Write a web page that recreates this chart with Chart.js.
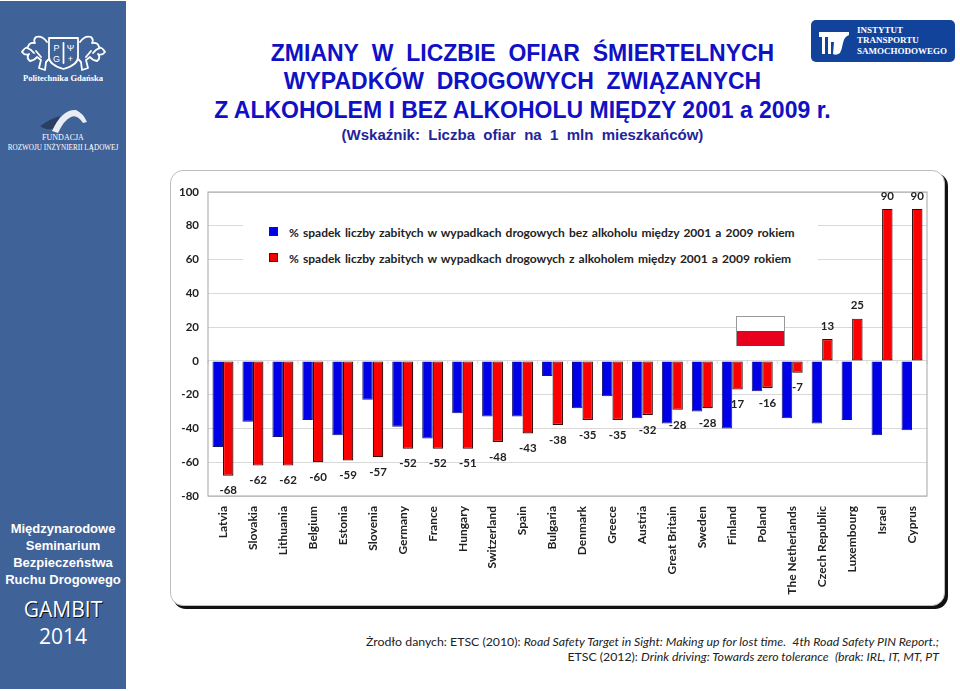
<!DOCTYPE html>
<html lang="pl">
<head>
<meta charset="utf-8">
<title>Zmiany w liczbie ofiar</title>
<script src="https://cdn.jsdelivr.net/npm/chart.js@4"></script>
<style>
  html, body { margin: 0; padding: 0; background: #fff; }
  #page { position: relative; width: 960px; height: 691px; overflow: hidden; font-family: "Liberation Sans", Arial, sans-serif; }
  #side { position: absolute; left: 0; top: 1px; width: 126px; height: 688px; background: #3f6298; color: #fff; text-align: center; }
  #side div { position: absolute; left: 0; width: 126px; white-space: nowrap; }
  .serif { font-family: "Liberation Serif", serif; font-weight: bold; }
  .title { position: absolute; left: 170px; width: 705px; text-align: center; color: #1010c4; font-weight: bold; white-space: nowrap; }
  #panel { position: absolute; left: 170px; top: 170px; width: 773px; height: 434px; background: #fff; border: 1px solid #bdbdbd; border-radius: 13px; box-shadow: 3px 3px 0 #111; }
  #wrap { position: absolute; left: 170px; top: 175px; width: 780px; height: 435px; }
  #legend { position: absolute; left: 243px; top: 212px; width: 575px; height: 60px; background: #fff; font: bold 12px Lato, sans-serif; color: #222; }
  #legend div { position: absolute; left: 46px; white-space: nowrap; word-spacing: 1.2px; }
  #legend i { position: absolute; left: -20px; top: 2px; width: 7px; height: 7px; border: 1px solid #222; }
  #flag { position: absolute; left: 736px; top: 316px; width: 47px; height: 29px; background: linear-gradient(#fff 50%, #e8001c 50%); border: 1px solid #999; border-bottom: 0; }
  .source { position: absolute; right: 21px; text-align: right; font: 12.3px Lato, sans-serif; color: #222; white-space: nowrap; }
</style>
</head>
<body>
<div id="page">
  <div id="side">
    <svg width="126" height="150" style="position:absolute;left:0;top:0">
      <g fill="none" stroke="#fff" stroke-width="1.800" stroke-linecap="round" stroke-linejoin="round">
        <path d="M49 37h29v19q0 8-14.500 12q-14.500-4-14.500-12z"/>
        <path d="M63.500 42v20"/>
        <path d="M47 41q-5-7-11-5q-3 3-1 6q-6-1-7 4q-4 1-6 5q3 4 7 2q-3 4 1 7q5-1 7-4l4 3-2 8 6 2 1-8 3-3M27 47q4 1 7 5M36 50l5 6"/>
        <path d="M80 41q5-7 11-5q3 3 1 6q6-1 7 4q4 1 6 5q-3 4-7 2q3 4-1 7q-5-1-7-4l-4 3 2 8-6 2-1-8-3-3M100 47q-4 1-7 5M91 50l-5 6"/>
      </g>
      <g fill="#fff" font-family="Liberation Sans" font-size="9" text-anchor="middle">
        <text x="56.500" y="50">P</text>
        <text x="56.500" y="61">G</text>
        <text x="70.500" y="50">Ψ</text>
        <text x="70.500" y="61">+</text>
      </g>
      <path d="M40 125q12-8 20-10l-4 12q-10 3-16-2z" fill="#2a3f63"/>
      <path d="M52 130q10-22 24-21q7 3 11 12l-4 1q-6-9-12-6q-7 3-13 16z" fill="#e9edf3"/>
    </svg>
    <div class="serif" style="top:72px;font-size:8.500px">Politechnika Gdańska</div>
    <div class="serif" style="top:132px;font-size:8px;font-weight:normal">FUNDACJA</div>
    <div class="serif" style="top:143px;font-size:7.200px;font-weight:normal">ROZWOJU INŻYNIERII LĄDOWEJ</div>
    <div style="top:519px;font-size:13px;font-weight:bold;line-height:17px">Międzynarodowe<br>Seminarium<br>Bezpieczeństwa<br>Ruchu Drogowego</div>
    <div style="top:594px;font:21px 'Open Sans',sans-serif;text-shadow:1px 1px 0 #111">GAMBIT</div>
    <div style="top:621px;font:21px 'Open Sans',sans-serif">2014</div>
  </div>

  <div class="title" style="top:40px;font-size:23px">ZMIANY&nbsp; W&nbsp; LICZBIE&nbsp; OFIAR&nbsp; ŚMIERTELNYCH</div>
  <div class="title" style="top:68px;font-size:23px">WYPADKÓW&nbsp; DROGOWYCH&nbsp; ZWIĄZANYCH</div>
  <div class="title" style="top:97px;font-size:23px">Z ALKOHOLEM I BEZ ALKOHOLU MIĘDZY 2001 a 2009 r.</div>
  <div class="title" style="top:126px;font-size:15px;color:#24249a">(Wskaźnik:&nbsp; Liczba&nbsp; ofiar&nbsp; na&nbsp; 1&nbsp; mln&nbsp; mieszkańców)</div>

  <svg width="144" height="42" style="position:absolute;left:811px;top:20px">
    <rect width="144" height="42" rx="5" fill="#12439b"/>
    <path d="M8 12h30v3q-5 2-6 8t-3 10q-4 3-7 1l1-12-3 0 0 12h-3v-17h-3v17h-3v-17h-3z" fill="#fff"/>
    <g fill="#fff" font-family="Liberation Serif" font-weight="bold" font-size="9">
      <text x="46" y="13">INSTYTUT</text>
      <text x="46" y="23">TRANSPORTU</text>
      <text x="46" y="34">SAMOCHODOWEGO</text>
    </g>
  </svg>

  <div id="panel"></div>
  <div id="wrap"><canvas id="chart" width="780" height="435"></canvas></div>
  <div id="legend"></div>
  <div id="flag"></div>

  <div class="source" style="top:634px">Żrodło danych: ETSC (2010): <i>Road Safety Target in Sight: Making up for lost time.</i>&nbsp; <i>4th Road Safety PIN Report.;</i></div>
  <div class="source" style="top:649px">ETSC (2012): <i>Drink driving: Towards zero tolerance</i>&nbsp; <i>(brak: IRL, IT, MT, PT</i></div>
</div>

<script>
const countries = ['Latvia', 'Slovakia', 'Lithuania', 'Belgium', 'Estonia', 'Slovenia', 'Germany', 'France', 'Hungary', 'Switzerland', 'Spain', 'Bulgaria', 'Denmark', 'Greece', 'Austria', 'Great Britain', 'Sweden', 'Finland', 'Poland', 'The Netherlands', 'Czech Republic', 'Luxembourg', 'Israel', 'Cyprus'];
const withoutAlcohol = [-51, -36, -45, -35, -44, -23, -39, -46, -31, -33, -33, -9, -28, -21, -34, -37, -30, -40, -18, -34, -37, -35, -44, -41];
const withAlcohol = [-68, -62, -62, -60, -59, -57, -52, -52, -52, -48, -43, -38, -35, -35, -32, -29, -28, -17, -16, -7, 13, 25, 90, 90];
const redLabels = ['-68', '-62', '-62', '-60', '-59', '-57', '-52', '-52', '-51', '-48', '-43', '-38', '-35', '-35', '-32', '-28', '-28', '17', '-16', '-7', '13', '25', '90', '90'];
const withoutLabel = '% spadek liczby zabitych w wypadkach drogowych bez alkoholu między 2001 a 2009 rokiem';
const withLabel = '% spadek liczby zabitych w wypadkach drogowych z alkoholem między 2001 a 2009 rokiem';

const chartFont = 'Lato, sans-serif';

// plot frame, small ticks on the zero line and the labels over the red bars
const extras = {
    id: 'extras',
    beforeDatasetsDraw(chart) {
        const { ctx, chartArea, scales } = chart;
        const zero = scales.y.getPixelForValue(0);
        ctx.save();
        ctx.strokeStyle = '#d9d9d9';
        ctx.lineWidth = 1;
        for (let i = 0; i <= countries.length; i++) {
            const x = chartArea.left + i * chartArea.width / countries.length;
            ctx.beginPath();
            ctx.moveTo(x, zero);
            ctx.lineTo(x, zero + 3);
            ctx.stroke();
        }
        ctx.strokeStyle = '#a6a6a6';
        ctx.strokeRect(chartArea.left, chartArea.top, chartArea.width, chartArea.height);
        ctx.restore();
    },
    afterDatasetsDraw(chart) {
        const { ctx } = chart;
        ctx.save();
        ctx.font = 'bold 11.5px ' + chartFont;
        ctx.fillStyle = '#222';
        ctx.textAlign = 'center';
        ctx.textBaseline = 'middle';
        chart.getDatasetMeta(1).data.forEach((bar, i) => {
            const shift = withAlcohol[i] < 0 ? 15 : -13;
            ctx.fillText(redLabels[i], bar.x, bar.y + shift);
        });
        ctx.restore();
    }
};

new Chart(document.getElementById('chart'), {
    type: 'bar',
    data: {
        labels: countries,
        datasets: [
            {
                label: withoutLabel,
                data: withoutAlcohol,
                backgroundColor: '#0000e6',
                borderColor: '#14147a',
                borderWidth: 1,
                categoryPercentage: 0.7,
                barPercentage: 1
            },
            {
                label: withLabel,
                data: withAlcohol,
                backgroundColor: '#fa0000',
                borderColor: '#3a0a0a',
                borderWidth: 1.2,
                borderSkipped: false,
                categoryPercentage: 0.7,
                barPercentage: 1
            }
        ]
    },
    options: {
        responsive: false,
        animation: false,
        layout: { padding: { left: 0, right: 23, top: 17, bottom: 0 } },
        plugins: {
            legend: { display: false },
            tooltip: { enabled: false }
        },
        scales: {
            x: {
                position: 'bottom',
                grid: { display: false },
                border: { display: false },
                afterFit(scale) { scale.height = 114; },
                ticks: {
                    autoSkip: false,
                    minRotation: 90,
                    maxRotation: 90,
                    padding: 2,
                    color: '#222',
                    font: { family: chartFont, size: 12, weight: 'bold' }
                }
            },
            y: {
                min: -80,
                max: 100,
                grid: { color: '#d9d9d9', drawTicks: false },
                border: { display: false },
                afterFit(scale) { scale.width = 38; },
                ticks: {
                    stepSize: 20,
                    padding: 9,
                    color: '#222',
                    font: { family: chartFont, size: 11.5, weight: 'bold' }
                }
            }
        }
    },
    plugins: [extras]
});

// legend sits on a white box over the grid lines
const legend = document.getElementById('legend');
[[withoutLabel, '#0000e6', 13], [withLabel, '#f40000', 39]].forEach(([text, colour, top]) => {
    const row = document.createElement('div');
    row.style.top = top + 'px';
    row.textContent = text;
    const box = document.createElement('i');
    box.style.background = colour;
    row.appendChild(box);
    legend.appendChild(row);
});
</script>
</body>
</html>
